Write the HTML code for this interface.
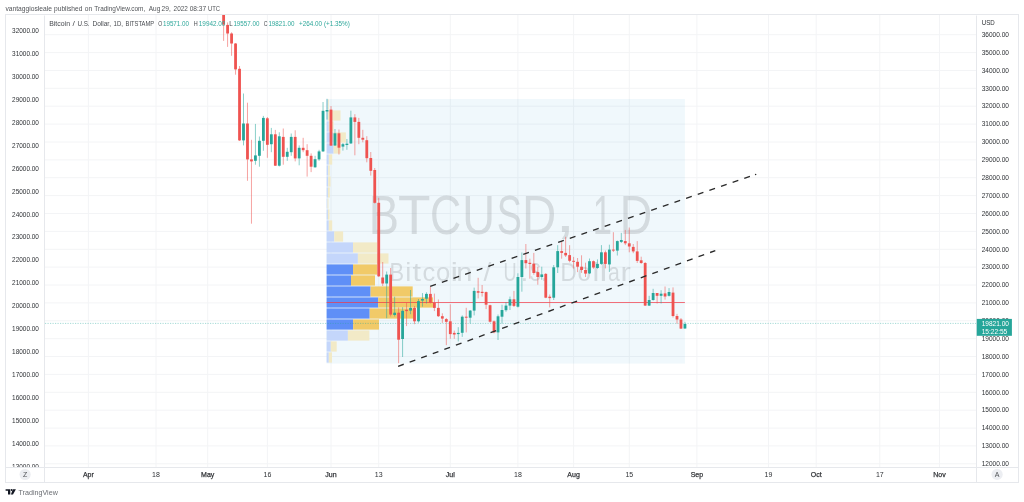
<!DOCTYPE html><html><head><meta charset="utf-8"><style>
html,body{margin:0;padding:0;background:#fff;width:1024px;height:502px;overflow:hidden}
svg{display:block;will-change:transform}
text{font-family:"Liberation Sans",Arial,sans-serif}
</style></head><body>
<svg width="1024" height="502" viewBox="0 0 1024 502">
<defs><clipPath id="pane"><rect x="45" y="15" width="931" height="452.2"/></clipPath><clipPath id="laxis"><rect x="5" y="15.8" width="39.5" height="451.2"/></clipPath><clipPath id="raxis"><rect x="976.5" y="15.8" width="42" height="451.2"/></clipPath></defs>
<text y="10.7" font-size="7.3" fill="#505357"><tspan x="5.4" textLength="46.6" lengthAdjust="spacingAndGlyphs">vantaggiosleale</tspan> <tspan x="54.0" textLength="28.4" lengthAdjust="spacingAndGlyphs">published</tspan> <tspan x="84.7" textLength="7.4" lengthAdjust="spacingAndGlyphs">on</tspan> <tspan x="94.3" textLength="51.0" lengthAdjust="spacingAndGlyphs">TradingView.com,</tspan> <tspan x="148.8" textLength="11.5" lengthAdjust="spacingAndGlyphs">Aug</tspan> <tspan x="161.6" textLength="9.2" lengthAdjust="spacingAndGlyphs">29,</tspan> <tspan x="173.6" textLength="14.2" lengthAdjust="spacingAndGlyphs">2022</tspan> <tspan x="189.7" textLength="16.5" lengthAdjust="spacingAndGlyphs">08:37</tspan> <tspan x="207.9" textLength="12.1" lengthAdjust="spacingAndGlyphs">UTC</tspan></text>
<rect x="5.5" y="14.5" width="1013" height="468" fill="#fff" stroke="#e6e8ec" stroke-width="1"/>
<g clip-path="url(#pane)">
<path d="M45 34.7H976 M45 52.6H976 M45 70.5H976 M45 88.3H976 M45 106.2H976 M45 124.1H976 M45 142.0H976 M45 159.9H976 M45 177.7H976 M45 195.6H976 M45 213.5H976 M45 231.4H976 M45 249.3H976 M45 267.1H976 M45 285.0H976 M45 302.9H976 M45 320.8H976 M45 338.7H976 M45 356.5H976 M45 374.4H976 M45 392.3H976 M45 410.2H976 M45 428.1H976 M45 445.9H976 M45 463.8H976 M45 481.7H976 M88.4 15V467 M156.0 15V467 M207.7 15V467 M267.4 15V467 M331.0 15V467 M378.7 15V467 M450.3 15V467 M517.9 15V467 M573.6 15V467 M629.3 15V467 M696.9 15V467 M768.5 15V467 M816.2 15V467 M879.8 15V467 M939.5 15V467" stroke="#f3f4f6" stroke-width="1" fill="none"/>
<rect x="326.6" y="99" width="358.3" height="264.6" fill="#1e90d0" fill-opacity="0.065"/>
<text y="233.6" font-size="55.8" fill="#8a8c8f" fill-opacity="0.27"><tspan x="368.69" textLength="30.22" lengthAdjust="spacingAndGlyphs">B</tspan><tspan x="397.93" textLength="32.48" lengthAdjust="spacingAndGlyphs">T</tspan><tspan x="430.09" textLength="31.26" lengthAdjust="spacingAndGlyphs">C</tspan><tspan x="462.30" textLength="32.80" lengthAdjust="spacingAndGlyphs">U</tspan><tspan x="496.86" textLength="25.17" lengthAdjust="spacingAndGlyphs">S</tspan><tspan x="521.91" textLength="34.28" lengthAdjust="spacingAndGlyphs">D</tspan><tspan x="555.18" textLength="20.13" lengthAdjust="spacingAndGlyphs" y="231.8">,</tspan><tspan y="233.6"> </tspan><tspan x="592.67" textLength="19.23" lengthAdjust="spacingAndGlyphs">1</tspan><tspan x="619.72" textLength="32.45" lengthAdjust="spacingAndGlyphs">D</tspan></text>
<text y="280.5" font-size="25.9" fill="#8a8c8f" fill-opacity="0.27"><tspan x="389.41" textLength="14.54" lengthAdjust="spacingAndGlyphs">B</tspan><tspan x="405.27" textLength="6.06" lengthAdjust="spacingAndGlyphs">i</tspan><tspan x="412.54" textLength="8.47" lengthAdjust="spacingAndGlyphs">t</tspan><tspan x="422.43" textLength="12.73" lengthAdjust="spacingAndGlyphs">c</tspan><tspan x="436.02" textLength="14.26" lengthAdjust="spacingAndGlyphs">o</tspan><tspan x="450.42" textLength="7.57" lengthAdjust="spacingAndGlyphs">i</tspan><tspan x="456.37" textLength="16.23" lengthAdjust="spacingAndGlyphs">n</tspan><tspan> </tspan><tspan x="483.50" textLength="7.80" lengthAdjust="spacingAndGlyphs">/</tspan><tspan> </tspan><tspan x="503.60" textLength="13.10" lengthAdjust="spacingAndGlyphs">U</tspan><tspan x="520.54" textLength="7.81" lengthAdjust="spacingAndGlyphs">.</tspan><tspan x="529.72" textLength="11.25" lengthAdjust="spacingAndGlyphs">S</tspan><tspan x="540.44" textLength="7.81" lengthAdjust="spacingAndGlyphs">.</tspan><tspan> </tspan><tspan x="560.56" textLength="16.22" lengthAdjust="spacingAndGlyphs">D</tspan><tspan x="577.48" textLength="13.55" lengthAdjust="spacingAndGlyphs">o</tspan><tspan x="592.44" textLength="6.82" lengthAdjust="spacingAndGlyphs">l</tspan><tspan x="599.54" textLength="7.83" lengthAdjust="spacingAndGlyphs">l</tspan><tspan x="608.01" textLength="11.79" lengthAdjust="spacingAndGlyphs">a</tspan><tspan x="620.54" textLength="10.39" lengthAdjust="spacingAndGlyphs">r</tspan></text>
<rect x="326.6" y="99.4" width="1.2" height="10.2" fill="#c4d6fb"/>
<rect x="327.8" y="99.4" width="1.0" height="10.2" fill="#f2eac7"/>
<rect x="326.6" y="110.4" width="1.2" height="10.2" fill="#c4d6fb"/>
<rect x="327.8" y="110.4" width="12.7" height="10.2" fill="#f2eac7"/>
<rect x="326.6" y="121.4" width="2.2" height="10.2" fill="#c4d6fb"/>
<rect x="328.8" y="121.4" width="4.8" height="10.2" fill="#f2eac7"/>
<rect x="326.6" y="132.4" width="6.4" height="10.2" fill="#c4d6fb"/>
<rect x="333.0" y="132.4" width="12.9" height="10.2" fill="#f2eac7"/>
<rect x="326.6" y="143.4" width="7.0" height="10.2" fill="#c4d6fb"/>
<rect x="333.6" y="143.4" width="7.1" height="10.2" fill="#f2eac7"/>
<rect x="326.6" y="154.4" width="2.2" height="10.2" fill="#c4d6fb"/>
<rect x="328.8" y="154.4" width="3.4" height="10.2" fill="#f2eac7"/>
<rect x="326.6" y="165.4" width="1.6" height="10.2" fill="#c4d6fb"/>
<rect x="328.2" y="165.4" width="1.6" height="10.2" fill="#f2eac7"/>
<rect x="326.6" y="176.4" width="1.6" height="10.2" fill="#c4d6fb"/>
<rect x="328.2" y="176.4" width="2.3" height="10.2" fill="#f2eac7"/>
<rect x="326.6" y="187.4" width="1.3" height="10.2" fill="#c4d6fb"/>
<rect x="327.9" y="187.4" width="1.9" height="10.2" fill="#f2eac7"/>
<rect x="326.6" y="198.4" width="0.9" height="10.2" fill="#c4d6fb"/>
<rect x="327.5" y="198.4" width="1.0" height="10.2" fill="#f2eac7"/>
<rect x="326.6" y="209.4" width="1.3" height="10.2" fill="#c4d6fb"/>
<rect x="327.9" y="209.4" width="1.6" height="10.2" fill="#f2eac7"/>
<rect x="326.6" y="220.4" width="2.2" height="10.2" fill="#c4d6fb"/>
<rect x="328.8" y="220.4" width="3.4" height="10.2" fill="#f2eac7"/>
<rect x="326.6" y="231.4" width="7.7" height="10.2" fill="#c4d6fb"/>
<rect x="334.3" y="231.4" width="8.8" height="10.2" fill="#f2eac7"/>
<rect x="326.6" y="242.4" width="26.4" height="10.2" fill="#c4d6fb"/>
<rect x="353.0" y="242.4" width="24.3" height="10.2" fill="#f2eac7"/>
<rect x="326.6" y="253.4" width="31.3" height="10.2" fill="#c4d6fb"/>
<rect x="357.9" y="253.4" width="30.6" height="10.2" fill="#f2eac7"/>
<rect x="326.6" y="264.4" width="26.4" height="10.2" fill="#5f8ff7"/>
<rect x="353.0" y="264.4" width="24.3" height="10.2" fill="#f1ca68"/>
<rect x="326.6" y="275.4" width="24.4" height="10.2" fill="#5f8ff7"/>
<rect x="351.0" y="275.4" width="24.0" height="10.2" fill="#f1ca68"/>
<rect x="326.6" y="286.4" width="44.0" height="10.2" fill="#5f8ff7"/>
<rect x="370.6" y="286.4" width="42.1" height="10.2" fill="#f1ca68"/>
<rect x="326.6" y="297.4" width="51.6" height="10.2" fill="#5f8ff7"/>
<rect x="378.2" y="297.4" width="54.8" height="10.2" fill="#f1ca68"/>
<rect x="326.6" y="308.4" width="43.1" height="10.2" fill="#5f8ff7"/>
<rect x="369.7" y="308.4" width="44.3" height="10.2" fill="#f1ca68"/>
<rect x="326.6" y="319.4" width="26.5" height="10.2" fill="#5f8ff7"/>
<rect x="353.1" y="319.4" width="25.9" height="10.2" fill="#f1ca68"/>
<rect x="326.6" y="330.4" width="21.3" height="10.2" fill="#c4d6fb"/>
<rect x="347.9" y="330.4" width="21.5" height="10.2" fill="#f2eac7"/>
<rect x="326.6" y="341.4" width="4.2" height="10.2" fill="#c4d6fb"/>
<rect x="330.8" y="341.4" width="5.9" height="10.2" fill="#f2eac7"/>
<rect x="326.6" y="352.4" width="2.2" height="10.2" fill="#c4d6fb"/>
<rect x="328.8" y="352.4" width="3.2" height="10.2" fill="#f2eac7"/>
<path d="M326.6 302.5H684.9" stroke="#f23645" stroke-opacity="0.7" stroke-width="1.1"/>
<path d="M45 323.4H976" stroke="#26a69a" stroke-opacity="0.42" stroke-width="1" stroke-dasharray="1.2 1.3" fill="none"/>
<path d="M223.62 0V40.9" stroke="#ef5350" stroke-width="0.9" stroke-opacity="0.6"/>
<rect x="222.22" y="5" width="2.8" height="19.6" fill="#ef5350"/>
<path d="M227.59 22.4V46.9" stroke="#ef5350" stroke-width="0.9" stroke-opacity="0.6"/>
<rect x="226.19" y="24.9" width="2.8" height="8.6" fill="#ef5350"/>
<path d="M231.57 32.3V55.8" stroke="#ef5350" stroke-width="0.9" stroke-opacity="0.6"/>
<rect x="230.17" y="33.5" width="2.8" height="10.0" fill="#ef5350"/>
<path d="M235.55 43V74.7" stroke="#ef5350" stroke-width="0.9" stroke-opacity="0.6"/>
<rect x="234.15" y="43.5" width="2.8" height="25.9" fill="#ef5350"/>
<path d="M239.53 66V141" stroke="#ef5350" stroke-width="0.9" stroke-opacity="0.6"/>
<rect x="238.13" y="68.8" width="2.8" height="71.6" fill="#ef5350"/>
<path d="M243.50 93.5V145.4" stroke="#26a69a" stroke-width="0.9" stroke-opacity="0.6"/>
<rect x="242.10" y="123.5" width="2.8" height="16.9" fill="#26a69a"/>
<path d="M247.48 102.7V180.8" stroke="#ef5350" stroke-width="0.9" stroke-opacity="0.6"/>
<rect x="246.08" y="123.5" width="2.8" height="35.9" fill="#ef5350"/>
<path d="M251.46 139.8V223.7" stroke="#ef5350" stroke-width="0.9" stroke-opacity="0.6"/>
<rect x="250.06" y="159.4" width="2.8" height="2.0" fill="#ef5350"/>
<path d="M255.43 123.9V164.7" stroke="#26a69a" stroke-width="0.9" stroke-opacity="0.6"/>
<rect x="254.03" y="155.4" width="2.8" height="5.4" fill="#26a69a"/>
<path d="M259.41 136.5V166.7" stroke="#26a69a" stroke-width="0.9" stroke-opacity="0.6"/>
<rect x="258.01" y="140.8" width="2.8" height="15.0" fill="#26a69a"/>
<path d="M263.39 115.9V150.8" stroke="#26a69a" stroke-width="0.9" stroke-opacity="0.6"/>
<rect x="261.99" y="117.9" width="2.8" height="22.9" fill="#26a69a"/>
<path d="M267.37 117V157.8" stroke="#ef5350" stroke-width="0.9" stroke-opacity="0.6"/>
<rect x="265.97" y="118.3" width="2.8" height="26.5" fill="#ef5350"/>
<path d="M271.34 127.9V152.2" stroke="#26a69a" stroke-width="0.9" stroke-opacity="0.6"/>
<rect x="269.94" y="134.3" width="2.8" height="9.9" fill="#26a69a"/>
<path d="M275.32 129.9V166" stroke="#ef5350" stroke-width="0.9" stroke-opacity="0.6"/>
<rect x="273.92" y="134.3" width="2.8" height="31.4" fill="#ef5350"/>
<path d="M279.30 132.3V166.5" stroke="#26a69a" stroke-width="0.9" stroke-opacity="0.6"/>
<rect x="277.90" y="136.3" width="2.8" height="29.4" fill="#26a69a"/>
<path d="M283.27 128.5V164.7" stroke="#ef5350" stroke-width="0.9" stroke-opacity="0.6"/>
<rect x="281.87" y="136.9" width="2.8" height="19.9" fill="#ef5350"/>
<path d="M287.25 147.8V160.8" stroke="#26a69a" stroke-width="0.9" stroke-opacity="0.6"/>
<rect x="285.85" y="151.8" width="2.8" height="5.0" fill="#26a69a"/>
<path d="M291.23 133.5V155.8" stroke="#26a69a" stroke-width="0.9" stroke-opacity="0.6"/>
<rect x="289.83" y="136.9" width="2.8" height="15.3" fill="#26a69a"/>
<path d="M295.20 130.3V161.4" stroke="#ef5350" stroke-width="0.9" stroke-opacity="0.6"/>
<rect x="293.80" y="136.9" width="2.8" height="21.5" fill="#ef5350"/>
<path d="M299.18 145.4V165.3" stroke="#26a69a" stroke-width="0.9" stroke-opacity="0.6"/>
<rect x="297.78" y="147.8" width="2.8" height="10.6" fill="#26a69a"/>
<path d="M303.16 137.8V152.2" stroke="#ef5350" stroke-width="0.9" stroke-opacity="0.6"/>
<rect x="301.76" y="147.8" width="2.8" height="2.4" fill="#ef5350"/>
<path d="M307.13 144.2V176.6" stroke="#ef5350" stroke-width="0.9" stroke-opacity="0.6"/>
<rect x="305.74" y="150.2" width="2.8" height="5.6" fill="#ef5350"/>
<path d="M311.11 153.4V172.1" stroke="#ef5350" stroke-width="0.9" stroke-opacity="0.6"/>
<rect x="309.71" y="155.8" width="2.8" height="10.9" fill="#ef5350"/>
<path d="M315.09 155.8V167.7" stroke="#26a69a" stroke-width="0.9" stroke-opacity="0.6"/>
<rect x="313.69" y="159.2" width="2.8" height="8.1" fill="#26a69a"/>
<path d="M319.07 149.8V160.8" stroke="#26a69a" stroke-width="0.9" stroke-opacity="0.6"/>
<rect x="317.67" y="151.4" width="2.8" height="8.0" fill="#26a69a"/>
<path d="M323.04 102V152" stroke="#26a69a" stroke-width="0.9" stroke-opacity="0.6"/>
<rect x="321.64" y="110.8" width="2.8" height="40.6" fill="#26a69a"/>
<path d="M327.02 98.8V119.5" stroke="#26a69a" stroke-width="0.9" stroke-opacity="0.6"/>
<rect x="325.62" y="110" width="2.8" height="1.5" fill="#26a69a"/>
<path d="M331.00 106V146" stroke="#ef5350" stroke-width="0.9" stroke-opacity="0.6"/>
<rect x="329.60" y="109.6" width="2.8" height="36.0" fill="#ef5350"/>
<path d="M334.97 129V146" stroke="#26a69a" stroke-width="0.9" stroke-opacity="0.6"/>
<rect x="333.57" y="133.3" width="2.8" height="12.2" fill="#26a69a"/>
<path d="M338.95 129.5V154.5" stroke="#ef5350" stroke-width="0.9" stroke-opacity="0.6"/>
<rect x="337.55" y="133.3" width="2.8" height="14.4" fill="#ef5350"/>
<path d="M342.93 143V150.6" stroke="#26a69a" stroke-width="0.9" stroke-opacity="0.6"/>
<rect x="341.53" y="144.2" width="2.8" height="2.4" fill="#26a69a"/>
<path d="M346.90 139V149.8" stroke="#26a69a" stroke-width="0.9" stroke-opacity="0.6"/>
<rect x="345.50" y="143.7" width="2.8" height="1.3" fill="#26a69a"/>
<path d="M350.88 110.7V144" stroke="#26a69a" stroke-width="0.9" stroke-opacity="0.6"/>
<rect x="349.48" y="117.4" width="2.8" height="26.0" fill="#26a69a"/>
<path d="M354.86 114.2V155.3" stroke="#ef5350" stroke-width="0.9" stroke-opacity="0.6"/>
<rect x="353.46" y="117.4" width="2.8" height="4.5" fill="#ef5350"/>
<path d="M358.84 117.9V144.2" stroke="#ef5350" stroke-width="0.9" stroke-opacity="0.6"/>
<rect x="357.44" y="121.9" width="2.8" height="15.9" fill="#ef5350"/>
<path d="M362.81 129.8V142.3" stroke="#ef5350" stroke-width="0.9" stroke-opacity="0.6"/>
<rect x="361.41" y="137.8" width="2.8" height="1.9" fill="#ef5350"/>
<path d="M366.79 136.2V162.3" stroke="#ef5350" stroke-width="0.9" stroke-opacity="0.6"/>
<rect x="365.39" y="140.2" width="2.8" height="18.0" fill="#ef5350"/>
<path d="M370.77 152V175.6" stroke="#ef5350" stroke-width="0.9" stroke-opacity="0.6"/>
<rect x="369.37" y="158" width="2.8" height="12.8" fill="#ef5350"/>
<path d="M374.74 168V203.5" stroke="#ef5350" stroke-width="0.9" stroke-opacity="0.6"/>
<rect x="373.34" y="170" width="2.8" height="32.8" fill="#ef5350"/>
<path d="M378.72 197.8V277" stroke="#ef5350" stroke-width="0.9" stroke-opacity="0.6"/>
<rect x="377.32" y="202.8" width="2.8" height="73.5" fill="#ef5350"/>
<path d="M382.70 262V286" stroke="#ef5350" stroke-width="0.9" stroke-opacity="0.6"/>
<rect x="381.30" y="277.5" width="2.8" height="6.0" fill="#ef5350"/>
<path d="M386.67 271.5V318.2" stroke="#26a69a" stroke-width="0.9" stroke-opacity="0.6"/>
<rect x="385.27" y="274.6" width="2.8" height="8.9" fill="#26a69a"/>
<path d="M390.65 268V316.5" stroke="#ef5350" stroke-width="0.9" stroke-opacity="0.6"/>
<rect x="389.25" y="274.6" width="2.8" height="40.0" fill="#ef5350"/>
<path d="M394.63 296.7V316.5" stroke="#26a69a" stroke-width="0.9" stroke-opacity="0.6"/>
<rect x="393.23" y="312.7" width="2.8" height="2.3" fill="#26a69a"/>
<path d="M398.61 307.4V363.2" stroke="#ef5350" stroke-width="0.9" stroke-opacity="0.6"/>
<rect x="397.21" y="312.7" width="2.8" height="27.0" fill="#ef5350"/>
<path d="M402.58 307.2V357" stroke="#26a69a" stroke-width="0.9" stroke-opacity="0.6"/>
<rect x="401.18" y="310.8" width="2.8" height="28.2" fill="#26a69a"/>
<path d="M406.56 302.7V326.1" stroke="#ef5350" stroke-width="0.9" stroke-opacity="0.6"/>
<rect x="405.16" y="309.8" width="2.8" height="1.3" fill="#ef5350"/>
<path d="M410.54 290V314.2" stroke="#26a69a" stroke-width="0.9" stroke-opacity="0.6"/>
<rect x="409.14" y="307.9" width="2.8" height="2.7" fill="#26a69a"/>
<path d="M414.51 306V324.2" stroke="#ef5350" stroke-width="0.9" stroke-opacity="0.6"/>
<rect x="413.11" y="307.9" width="2.8" height="13.4" fill="#ef5350"/>
<path d="M418.49 299V322.6" stroke="#26a69a" stroke-width="0.9" stroke-opacity="0.6"/>
<rect x="417.09" y="301.1" width="2.8" height="20.2" fill="#26a69a"/>
<path d="M422.47 293.1V306.7" stroke="#26a69a" stroke-width="0.9" stroke-opacity="0.6"/>
<rect x="421.07" y="299" width="2.8" height="1.6" fill="#26a69a"/>
<path d="M426.45 292.3V303.5" stroke="#26a69a" stroke-width="0.9" stroke-opacity="0.6"/>
<rect x="425.05" y="293.9" width="2.8" height="4.8" fill="#26a69a"/>
<path d="M430.42 286.7V303.5" stroke="#ef5350" stroke-width="0.9" stroke-opacity="0.6"/>
<rect x="429.02" y="293.9" width="2.8" height="8.7" fill="#ef5350"/>
<path d="M434.40 293.6V311.1" stroke="#ef5350" stroke-width="0.9" stroke-opacity="0.6"/>
<rect x="433.00" y="302.7" width="2.8" height="5.2" fill="#ef5350"/>
<path d="M438.38 299.5V317" stroke="#ef5350" stroke-width="0.9" stroke-opacity="0.6"/>
<rect x="436.98" y="307.9" width="2.8" height="8.3" fill="#ef5350"/>
<path d="M442.35 313.3V322.9" stroke="#ef5350" stroke-width="0.9" stroke-opacity="0.6"/>
<rect x="440.95" y="316.2" width="2.8" height="2.4" fill="#ef5350"/>
<path d="M446.33 318V345.2" stroke="#ef5350" stroke-width="0.9" stroke-opacity="0.6"/>
<rect x="444.93" y="319.1" width="2.8" height="2.7" fill="#ef5350"/>
<path d="M450.31 304.3V338.8" stroke="#ef5350" stroke-width="0.9" stroke-opacity="0.6"/>
<rect x="448.91" y="321.3" width="2.8" height="12.8" fill="#ef5350"/>
<path d="M454.28 330.6V338.8" stroke="#ef5350" stroke-width="0.9" stroke-opacity="0.6"/>
<rect x="452.88" y="332.9" width="2.8" height="1.6" fill="#ef5350"/>
<path d="M458.26 327.2V341.4" stroke="#26a69a" stroke-width="0.9" stroke-opacity="0.6"/>
<rect x="456.86" y="332.9" width="2.8" height="1.2" fill="#26a69a"/>
<path d="M462.24 315.4V336.9" stroke="#26a69a" stroke-width="0.9" stroke-opacity="0.6"/>
<rect x="460.84" y="316.7" width="2.8" height="16.1" fill="#26a69a"/>
<path d="M466.22 307.8V332.4" stroke="#ef5350" stroke-width="0.9" stroke-opacity="0.6"/>
<rect x="464.82" y="316.7" width="2.8" height="1.0" fill="#ef5350"/>
<path d="M470.19 310V323.5" stroke="#26a69a" stroke-width="0.9" stroke-opacity="0.6"/>
<rect x="468.79" y="310.6" width="2.8" height="7.1" fill="#26a69a"/>
<path d="M474.17 287.6V315.4" stroke="#26a69a" stroke-width="0.9" stroke-opacity="0.6"/>
<rect x="472.77" y="290.9" width="2.8" height="19.7" fill="#26a69a"/>
<path d="M478.15 277.8V298.4" stroke="#ef5350" stroke-width="0.9" stroke-opacity="0.6"/>
<rect x="476.75" y="291.2" width="2.8" height="1.5" fill="#ef5350"/>
<path d="M482.12 285V296.6" stroke="#ef5350" stroke-width="0.9" stroke-opacity="0.6"/>
<rect x="480.72" y="291.8" width="2.8" height="1.2" fill="#ef5350"/>
<path d="M486.10 291.5V309.1" stroke="#ef5350" stroke-width="0.9" stroke-opacity="0.6"/>
<rect x="484.70" y="292.1" width="2.8" height="12.6" fill="#ef5350"/>
<path d="M490.08 304.7V322.6" stroke="#ef5350" stroke-width="0.9" stroke-opacity="0.6"/>
<rect x="488.68" y="305.2" width="2.8" height="16.5" fill="#ef5350"/>
<path d="M494.05 320.5V333.3" stroke="#ef5350" stroke-width="0.9" stroke-opacity="0.6"/>
<rect x="492.65" y="321.3" width="2.8" height="11.1" fill="#ef5350"/>
<path d="M498.03 314.5V340" stroke="#26a69a" stroke-width="0.9" stroke-opacity="0.6"/>
<rect x="496.63" y="316.3" width="2.8" height="16.1" fill="#26a69a"/>
<path d="M502.01 304.7V323.5" stroke="#26a69a" stroke-width="0.9" stroke-opacity="0.6"/>
<rect x="500.61" y="310" width="2.8" height="6.7" fill="#26a69a"/>
<path d="M505.99 302V311.8" stroke="#26a69a" stroke-width="0.9" stroke-opacity="0.6"/>
<rect x="504.59" y="305.6" width="2.8" height="4.6" fill="#26a69a"/>
<path d="M509.96 296.6V310" stroke="#26a69a" stroke-width="0.9" stroke-opacity="0.6"/>
<rect x="508.56" y="299.3" width="2.8" height="6.3" fill="#26a69a"/>
<path d="M513.94 290.9V307" stroke="#ef5350" stroke-width="0.9" stroke-opacity="0.6"/>
<rect x="512.54" y="299.3" width="2.8" height="6.6" fill="#ef5350"/>
<path d="M517.92 273.3V307.5" stroke="#26a69a" stroke-width="0.9" stroke-opacity="0.6"/>
<rect x="516.52" y="277" width="2.8" height="29.7" fill="#26a69a"/>
<path d="M521.89 252.5V291.7" stroke="#26a69a" stroke-width="0.9" stroke-opacity="0.6"/>
<rect x="520.49" y="260.1" width="2.8" height="16.9" fill="#26a69a"/>
<path d="M525.87 244V268.5" stroke="#ef5350" stroke-width="0.9" stroke-opacity="0.6"/>
<rect x="524.47" y="260.1" width="2.8" height="3.1" fill="#ef5350"/>
<path d="M529.85 258.7V278.7" stroke="#ef5350" stroke-width="0.9" stroke-opacity="0.6"/>
<rect x="528.45" y="262.8" width="2.8" height="1.2" fill="#ef5350"/>
<path d="M533.82 252.9V274.8" stroke="#ef5350" stroke-width="0.9" stroke-opacity="0.6"/>
<rect x="532.42" y="263.7" width="2.8" height="9.3" fill="#ef5350"/>
<path d="M537.80 266.7V284.7" stroke="#ef5350" stroke-width="0.9" stroke-opacity="0.6"/>
<rect x="536.40" y="272.1" width="2.8" height="4.9" fill="#ef5350"/>
<path d="M541.78 266.7V279.8" stroke="#26a69a" stroke-width="0.9" stroke-opacity="0.6"/>
<rect x="540.38" y="274.4" width="2.8" height="2.6" fill="#26a69a"/>
<path d="M545.75 273V298.2" stroke="#ef5350" stroke-width="0.9" stroke-opacity="0.6"/>
<rect x="544.36" y="273.9" width="2.8" height="23.8" fill="#ef5350"/>
<path d="M549.73 294.5V307.4" stroke="#ef5350" stroke-width="0.9" stroke-opacity="0.6"/>
<rect x="548.33" y="296.7" width="2.8" height="1.4" fill="#ef5350"/>
<path d="M553.71 265V300" stroke="#26a69a" stroke-width="0.9" stroke-opacity="0.6"/>
<rect x="552.31" y="267.3" width="2.8" height="30.4" fill="#26a69a"/>
<path d="M557.69 245.2V273" stroke="#26a69a" stroke-width="0.9" stroke-opacity="0.6"/>
<rect x="556.29" y="251.1" width="2.8" height="16.2" fill="#26a69a"/>
<path d="M561.66 241.1V258.7" stroke="#ef5350" stroke-width="0.9" stroke-opacity="0.6"/>
<rect x="560.26" y="251.1" width="2.8" height="1.8" fill="#ef5350"/>
<path d="M565.64 236.8V257" stroke="#ef5350" stroke-width="0.9" stroke-opacity="0.6"/>
<rect x="564.24" y="252.9" width="2.8" height="2.5" fill="#ef5350"/>
<path d="M569.62 245.2V262.3" stroke="#ef5350" stroke-width="0.9" stroke-opacity="0.6"/>
<rect x="568.22" y="255.1" width="2.8" height="5.7" fill="#ef5350"/>
<path d="M573.59 256.9V268.5" stroke="#ef5350" stroke-width="0.9" stroke-opacity="0.6"/>
<rect x="572.19" y="260.8" width="2.8" height="1.0" fill="#ef5350"/>
<path d="M577.57 258V272.1" stroke="#ef5350" stroke-width="0.9" stroke-opacity="0.6"/>
<rect x="576.17" y="261.8" width="2.8" height="4.9" fill="#ef5350"/>
<path d="M581.55 255.3V272.9" stroke="#ef5350" stroke-width="0.9" stroke-opacity="0.6"/>
<rect x="580.15" y="266.7" width="2.8" height="3.3" fill="#ef5350"/>
<path d="M585.52 262.7V277" stroke="#ef5350" stroke-width="0.9" stroke-opacity="0.6"/>
<rect x="584.12" y="270" width="2.8" height="3.6" fill="#ef5350"/>
<path d="M589.50 258.5V274" stroke="#26a69a" stroke-width="0.9" stroke-opacity="0.6"/>
<rect x="588.10" y="261.2" width="2.8" height="12.2" fill="#26a69a"/>
<path d="M593.48 260.5V268.8" stroke="#ef5350" stroke-width="0.9" stroke-opacity="0.6"/>
<rect x="592.08" y="261.2" width="2.8" height="6.3" fill="#ef5350"/>
<path d="M597.46 259.4V268.8" stroke="#26a69a" stroke-width="0.9" stroke-opacity="0.6"/>
<rect x="596.06" y="263.9" width="2.8" height="4.1" fill="#26a69a"/>
<path d="M601.43 245.1V264.8" stroke="#26a69a" stroke-width="0.9" stroke-opacity="0.6"/>
<rect x="600.03" y="252.3" width="2.8" height="11.6" fill="#26a69a"/>
<path d="M605.41 250.5V268.4" stroke="#ef5350" stroke-width="0.9" stroke-opacity="0.6"/>
<rect x="604.01" y="252.3" width="2.8" height="11.6" fill="#ef5350"/>
<path d="M609.39 244.7V272" stroke="#26a69a" stroke-width="0.9" stroke-opacity="0.6"/>
<rect x="607.99" y="249.6" width="2.8" height="14.8" fill="#26a69a"/>
<path d="M613.36 232.2V252" stroke="#ef5350" stroke-width="0.9" stroke-opacity="0.6"/>
<rect x="611.96" y="249.6" width="2.8" height="1.0" fill="#ef5350"/>
<path d="M617.34 240.5V255.5" stroke="#26a69a" stroke-width="0.9" stroke-opacity="0.6"/>
<rect x="615.94" y="241.1" width="2.8" height="9.5" fill="#26a69a"/>
<path d="M621.32 232.9V243" stroke="#26a69a" stroke-width="0.9" stroke-opacity="0.6"/>
<rect x="619.92" y="240" width="2.8" height="1.9" fill="#26a69a"/>
<path d="M625.29 229.9V245.1" stroke="#ef5350" stroke-width="0.9" stroke-opacity="0.6"/>
<rect x="623.89" y="241.1" width="2.8" height="2.2" fill="#ef5350"/>
<path d="M629.27 227.5V252.3" stroke="#ef5350" stroke-width="0.9" stroke-opacity="0.6"/>
<rect x="627.87" y="243.3" width="2.8" height="3.2" fill="#ef5350"/>
<path d="M633.25 244V253.2" stroke="#ef5350" stroke-width="0.9" stroke-opacity="0.6"/>
<rect x="631.85" y="246.9" width="2.8" height="4.5" fill="#ef5350"/>
<path d="M637.23 241.1V263" stroke="#ef5350" stroke-width="0.9" stroke-opacity="0.6"/>
<rect x="635.83" y="251.4" width="2.8" height="9.5" fill="#ef5350"/>
<path d="M641.20 256.7V263.9" stroke="#ef5350" stroke-width="0.9" stroke-opacity="0.6"/>
<rect x="639.80" y="260.3" width="2.8" height="2.7" fill="#ef5350"/>
<path d="M645.18 262V306" stroke="#ef5350" stroke-width="0.9" stroke-opacity="0.6"/>
<rect x="643.78" y="263" width="2.8" height="42.6" fill="#ef5350"/>
<path d="M649.16 295.8V306" stroke="#26a69a" stroke-width="0.9" stroke-opacity="0.6"/>
<rect x="647.76" y="300" width="2.8" height="5.6" fill="#26a69a"/>
<path d="M653.13 288.8V300.7" stroke="#26a69a" stroke-width="0.9" stroke-opacity="0.6"/>
<rect x="651.73" y="293" width="2.8" height="7.0" fill="#26a69a"/>
<path d="M657.11 293V303.5" stroke="#ef5350" stroke-width="0.9" stroke-opacity="0.6"/>
<rect x="655.71" y="293" width="2.8" height="2.8" fill="#ef5350"/>
<path d="M661.09 290.2V303.5" stroke="#26a69a" stroke-width="0.9" stroke-opacity="0.6"/>
<rect x="659.69" y="293.7" width="2.8" height="2.1" fill="#26a69a"/>
<path d="M665.06 286.5V299.6" stroke="#ef5350" stroke-width="0.9" stroke-opacity="0.6"/>
<rect x="663.66" y="293.4" width="2.8" height="3.1" fill="#ef5350"/>
<path d="M669.04 288.1V296.5" stroke="#26a69a" stroke-width="0.9" stroke-opacity="0.6"/>
<rect x="667.64" y="292" width="2.8" height="3.8" fill="#26a69a"/>
<path d="M673.02 287.4V317.5" stroke="#ef5350" stroke-width="0.9" stroke-opacity="0.6"/>
<rect x="671.62" y="292.6" width="2.8" height="23.4" fill="#ef5350"/>
<path d="M677.00 313.9V323.7" stroke="#ef5350" stroke-width="0.9" stroke-opacity="0.6"/>
<rect x="675.60" y="316" width="2.8" height="3.5" fill="#ef5350"/>
<path d="M680.97 318V329" stroke="#ef5350" stroke-width="0.9" stroke-opacity="0.6"/>
<rect x="679.57" y="319.5" width="2.8" height="9.1" fill="#ef5350"/>
<path d="M684.95 321.8V328.8" stroke="#26a69a" stroke-width="0.9" stroke-opacity="0.6"/>
<rect x="683.55" y="324" width="2.8" height="4.5" fill="#26a69a"/>
<path d="M398.1 366.3L715.3 250.6" stroke="#2a2a2a" stroke-width="1.35" stroke-dasharray="6 6.3" fill="none"/>
<path d="M430.2 286.3L755.9 174.3" stroke="#2a2a2a" stroke-width="1.35" stroke-dasharray="6 6.3" fill="none"/>
<circle cx="755.6" cy="174.4" r="0.75" fill="#2a2a2a"/>
<text y="25.6" font-size="7.9" fill="#484b50"><tspan x="49.2" textLength="20.8" lengthAdjust="spacingAndGlyphs">Bitcoin</tspan> <tspan x="72.5" textLength="2.4" lengthAdjust="spacingAndGlyphs">/</tspan> <tspan x="77.4" textLength="12.2" lengthAdjust="spacingAndGlyphs">U.S.</tspan> <tspan x="92.4" textLength="18.6" lengthAdjust="spacingAndGlyphs">Dollar,</tspan> <tspan x="113.6" textLength="9.4" lengthAdjust="spacingAndGlyphs">1D,</tspan> <tspan x="125.6" textLength="28.5" lengthAdjust="spacingAndGlyphs">BITSTAMP</tspan></text>
<text x="158.2" y="25.6" font-size="7.9" fill="#484b50" textLength="3.9" lengthAdjust="spacingAndGlyphs">O</text>
<text x="162.9" y="25.6" font-size="7.9" fill="#2fa89b" textLength="26.2" lengthAdjust="spacingAndGlyphs">19571.00</text>
<text x="193.75" y="25.6" font-size="7.9" fill="#484b50" textLength="3.95" lengthAdjust="spacingAndGlyphs">H</text>
<text x="198.8" y="25.6" font-size="7.9" fill="#2fa89b" textLength="26.6" lengthAdjust="spacingAndGlyphs">19942.00</text>
<text x="229.3" y="25.6" font-size="7.9" fill="#484b50" textLength="3.5" lengthAdjust="spacingAndGlyphs">L</text>
<text x="233.4" y="25.6" font-size="7.9" fill="#2fa89b" textLength="26.0" lengthAdjust="spacingAndGlyphs">19557.00</text>
<text x="263.8" y="25.6" font-size="7.9" fill="#484b50" textLength="3.8" lengthAdjust="spacingAndGlyphs">C</text>
<text x="268.4" y="25.6" font-size="7.9" fill="#2fa89b" textLength="26.1" lengthAdjust="spacingAndGlyphs">19821.00</text>
<text x="299.0" y="25.6" font-size="7.9" fill="#2fa89b" textLength="50.8" lengthAdjust="spacingAndGlyphs">+264.00 (+1.35%)</text>
</g>
<path d="M44.5 15.5V482M976.5 15.5V482M5.5 467.5H1018.5" stroke="#e6e8ec" stroke-width="1" fill="none"/>
<g clip-path="url(#laxis)" font-size="7.5" fill="#2e3135">
<text x="38.9" y="32.8" text-anchor="end" textLength="26.8" lengthAdjust="spacingAndGlyphs">32000.00</text>
<text x="38.9" y="55.8" text-anchor="end" textLength="26.8" lengthAdjust="spacingAndGlyphs">31000.00</text>
<text x="38.9" y="78.7" text-anchor="end" textLength="26.8" lengthAdjust="spacingAndGlyphs">30000.00</text>
<text x="38.9" y="101.7" text-anchor="end" textLength="26.8" lengthAdjust="spacingAndGlyphs">29000.00</text>
<text x="38.9" y="124.6" text-anchor="end" textLength="26.8" lengthAdjust="spacingAndGlyphs">28000.00</text>
<text x="38.9" y="147.6" text-anchor="end" textLength="26.8" lengthAdjust="spacingAndGlyphs">27000.00</text>
<text x="38.9" y="170.6" text-anchor="end" textLength="26.8" lengthAdjust="spacingAndGlyphs">26000.00</text>
<text x="38.9" y="193.5" text-anchor="end" textLength="26.8" lengthAdjust="spacingAndGlyphs">25000.00</text>
<text x="38.9" y="216.5" text-anchor="end" textLength="26.8" lengthAdjust="spacingAndGlyphs">24000.00</text>
<text x="38.9" y="239.4" text-anchor="end" textLength="26.8" lengthAdjust="spacingAndGlyphs">23000.00</text>
<text x="38.9" y="262.4" text-anchor="end" textLength="26.8" lengthAdjust="spacingAndGlyphs">22000.00</text>
<text x="38.9" y="285.4" text-anchor="end" textLength="26.8" lengthAdjust="spacingAndGlyphs">21000.00</text>
<text x="38.9" y="308.3" text-anchor="end" textLength="26.8" lengthAdjust="spacingAndGlyphs">20000.00</text>
<text x="38.9" y="331.3" text-anchor="end" textLength="26.8" lengthAdjust="spacingAndGlyphs">19000.00</text>
<text x="38.9" y="354.2" text-anchor="end" textLength="26.8" lengthAdjust="spacingAndGlyphs">18000.00</text>
<text x="38.9" y="377.2" text-anchor="end" textLength="26.8" lengthAdjust="spacingAndGlyphs">17000.00</text>
<text x="38.9" y="400.2" text-anchor="end" textLength="26.8" lengthAdjust="spacingAndGlyphs">16000.00</text>
<text x="38.9" y="423.1" text-anchor="end" textLength="26.8" lengthAdjust="spacingAndGlyphs">15000.00</text>
<text x="38.9" y="446.1" text-anchor="end" textLength="26.8" lengthAdjust="spacingAndGlyphs">14000.00</text>
<text x="38.9" y="469.0" text-anchor="end" textLength="26.8" lengthAdjust="spacingAndGlyphs">13000.00</text>
</g>
<g clip-path="url(#raxis)" font-size="7.5" fill="#2e3135">
<text x="981.7" y="24.7" textLength="13" lengthAdjust="spacingAndGlyphs">USD</text>
<text x="981.7" y="36.9" textLength="27.2" lengthAdjust="spacingAndGlyphs">36000.00</text>
<text x="981.7" y="54.8" textLength="27.2" lengthAdjust="spacingAndGlyphs">35000.00</text>
<text x="981.7" y="72.7" textLength="27.2" lengthAdjust="spacingAndGlyphs">34000.00</text>
<text x="981.7" y="90.5" textLength="27.2" lengthAdjust="spacingAndGlyphs">33000.00</text>
<text x="981.7" y="108.4" textLength="27.2" lengthAdjust="spacingAndGlyphs">32000.00</text>
<text x="981.7" y="126.3" textLength="27.2" lengthAdjust="spacingAndGlyphs">31000.00</text>
<text x="981.7" y="144.2" textLength="27.2" lengthAdjust="spacingAndGlyphs">30000.00</text>
<text x="981.7" y="162.1" textLength="27.2" lengthAdjust="spacingAndGlyphs">29000.00</text>
<text x="981.7" y="179.9" textLength="27.2" lengthAdjust="spacingAndGlyphs">28000.00</text>
<text x="981.7" y="197.8" textLength="27.2" lengthAdjust="spacingAndGlyphs">27000.00</text>
<text x="981.7" y="215.7" textLength="27.2" lengthAdjust="spacingAndGlyphs">26000.00</text>
<text x="981.7" y="233.6" textLength="27.2" lengthAdjust="spacingAndGlyphs">25000.00</text>
<text x="981.7" y="251.5" textLength="27.2" lengthAdjust="spacingAndGlyphs">24000.00</text>
<text x="981.7" y="269.3" textLength="27.2" lengthAdjust="spacingAndGlyphs">23000.00</text>
<text x="981.7" y="287.2" textLength="27.2" lengthAdjust="spacingAndGlyphs">22000.00</text>
<text x="981.7" y="305.1" textLength="27.2" lengthAdjust="spacingAndGlyphs">21000.00</text>
<text x="981.7" y="323.0" textLength="27.2" lengthAdjust="spacingAndGlyphs">20000.00</text>
<text x="981.7" y="340.9" textLength="27.2" lengthAdjust="spacingAndGlyphs">19000.00</text>
<text x="981.7" y="358.7" textLength="27.2" lengthAdjust="spacingAndGlyphs">18000.00</text>
<text x="981.7" y="376.6" textLength="27.2" lengthAdjust="spacingAndGlyphs">17000.00</text>
<text x="981.7" y="394.5" textLength="27.2" lengthAdjust="spacingAndGlyphs">16000.00</text>
<text x="981.7" y="412.4" textLength="27.2" lengthAdjust="spacingAndGlyphs">15000.00</text>
<text x="981.7" y="430.3" textLength="27.2" lengthAdjust="spacingAndGlyphs">14000.00</text>
<text x="981.7" y="448.1" textLength="27.2" lengthAdjust="spacingAndGlyphs">13000.00</text>
<text x="981.7" y="466.0" textLength="27.2" lengthAdjust="spacingAndGlyphs">12000.00</text>
<rect x="976.5" y="318.9" width="35.4" height="16.9" fill="#26a69a"/>
<text x="981.7" y="326.2" fill="#fff" textLength="27.2" lengthAdjust="spacingAndGlyphs">19821.00</text>
<text x="981.7" y="333.8" fill="#fff" textLength="25.6" lengthAdjust="spacingAndGlyphs">15:22:55</text>
</g>
<g font-size="7" fill="#2e3135" text-anchor="middle">
<text x="88.4" y="476.8" fill="#333539" stroke="#333539" stroke-width="0.25">Apr</text>
<text x="156.0" y="476.8">18</text>
<text x="207.7" y="476.8" fill="#333539" stroke="#333539" stroke-width="0.25">May</text>
<text x="267.4" y="476.8">16</text>
<text x="331.0" y="476.8" fill="#333539" stroke="#333539" stroke-width="0.25">Jun</text>
<text x="378.7" y="476.8">13</text>
<text x="450.3" y="476.8" fill="#333539" stroke="#333539" stroke-width="0.25">Jul</text>
<text x="517.9" y="476.8">18</text>
<text x="573.6" y="476.8" fill="#333539" stroke="#333539" stroke-width="0.25">Aug</text>
<text x="629.3" y="476.8">15</text>
<text x="696.9" y="476.8" fill="#333539" stroke="#333539" stroke-width="0.25">Sep</text>
<text x="768.5" y="476.8">19</text>
<text x="816.2" y="476.8" fill="#333539" stroke="#333539" stroke-width="0.25">Oct</text>
<text x="879.8" y="476.8">17</text>
<text x="939.5" y="476.8" fill="#333539" stroke="#333539" stroke-width="0.25">Nov</text>
</g>
<circle cx="25.1" cy="474.5" r="5.6" fill="#eceef2"/><text x="25.1" y="477" font-size="7" fill="#505357" text-anchor="middle">Z</text>
<circle cx="997.1" cy="474.4" r="5.6" fill="#eceef2"/><text x="997.1" y="477" font-size="7" fill="#505357" text-anchor="middle">A</text>
<g fill="#131722"><path d="M5.6 489.2H10.3V494.5H8V490.8H5.6Z"/><circle cx="11.6" cy="490" r="0.9"/><path d="M12.8 489.2H15.9L13 494.5H10.9Z"/></g>
<text x="18.5" y="494.5" font-size="7.2" fill="#6b6e73" textLength="39.3" lengthAdjust="spacingAndGlyphs">TradingView</text>
</svg></body></html>
